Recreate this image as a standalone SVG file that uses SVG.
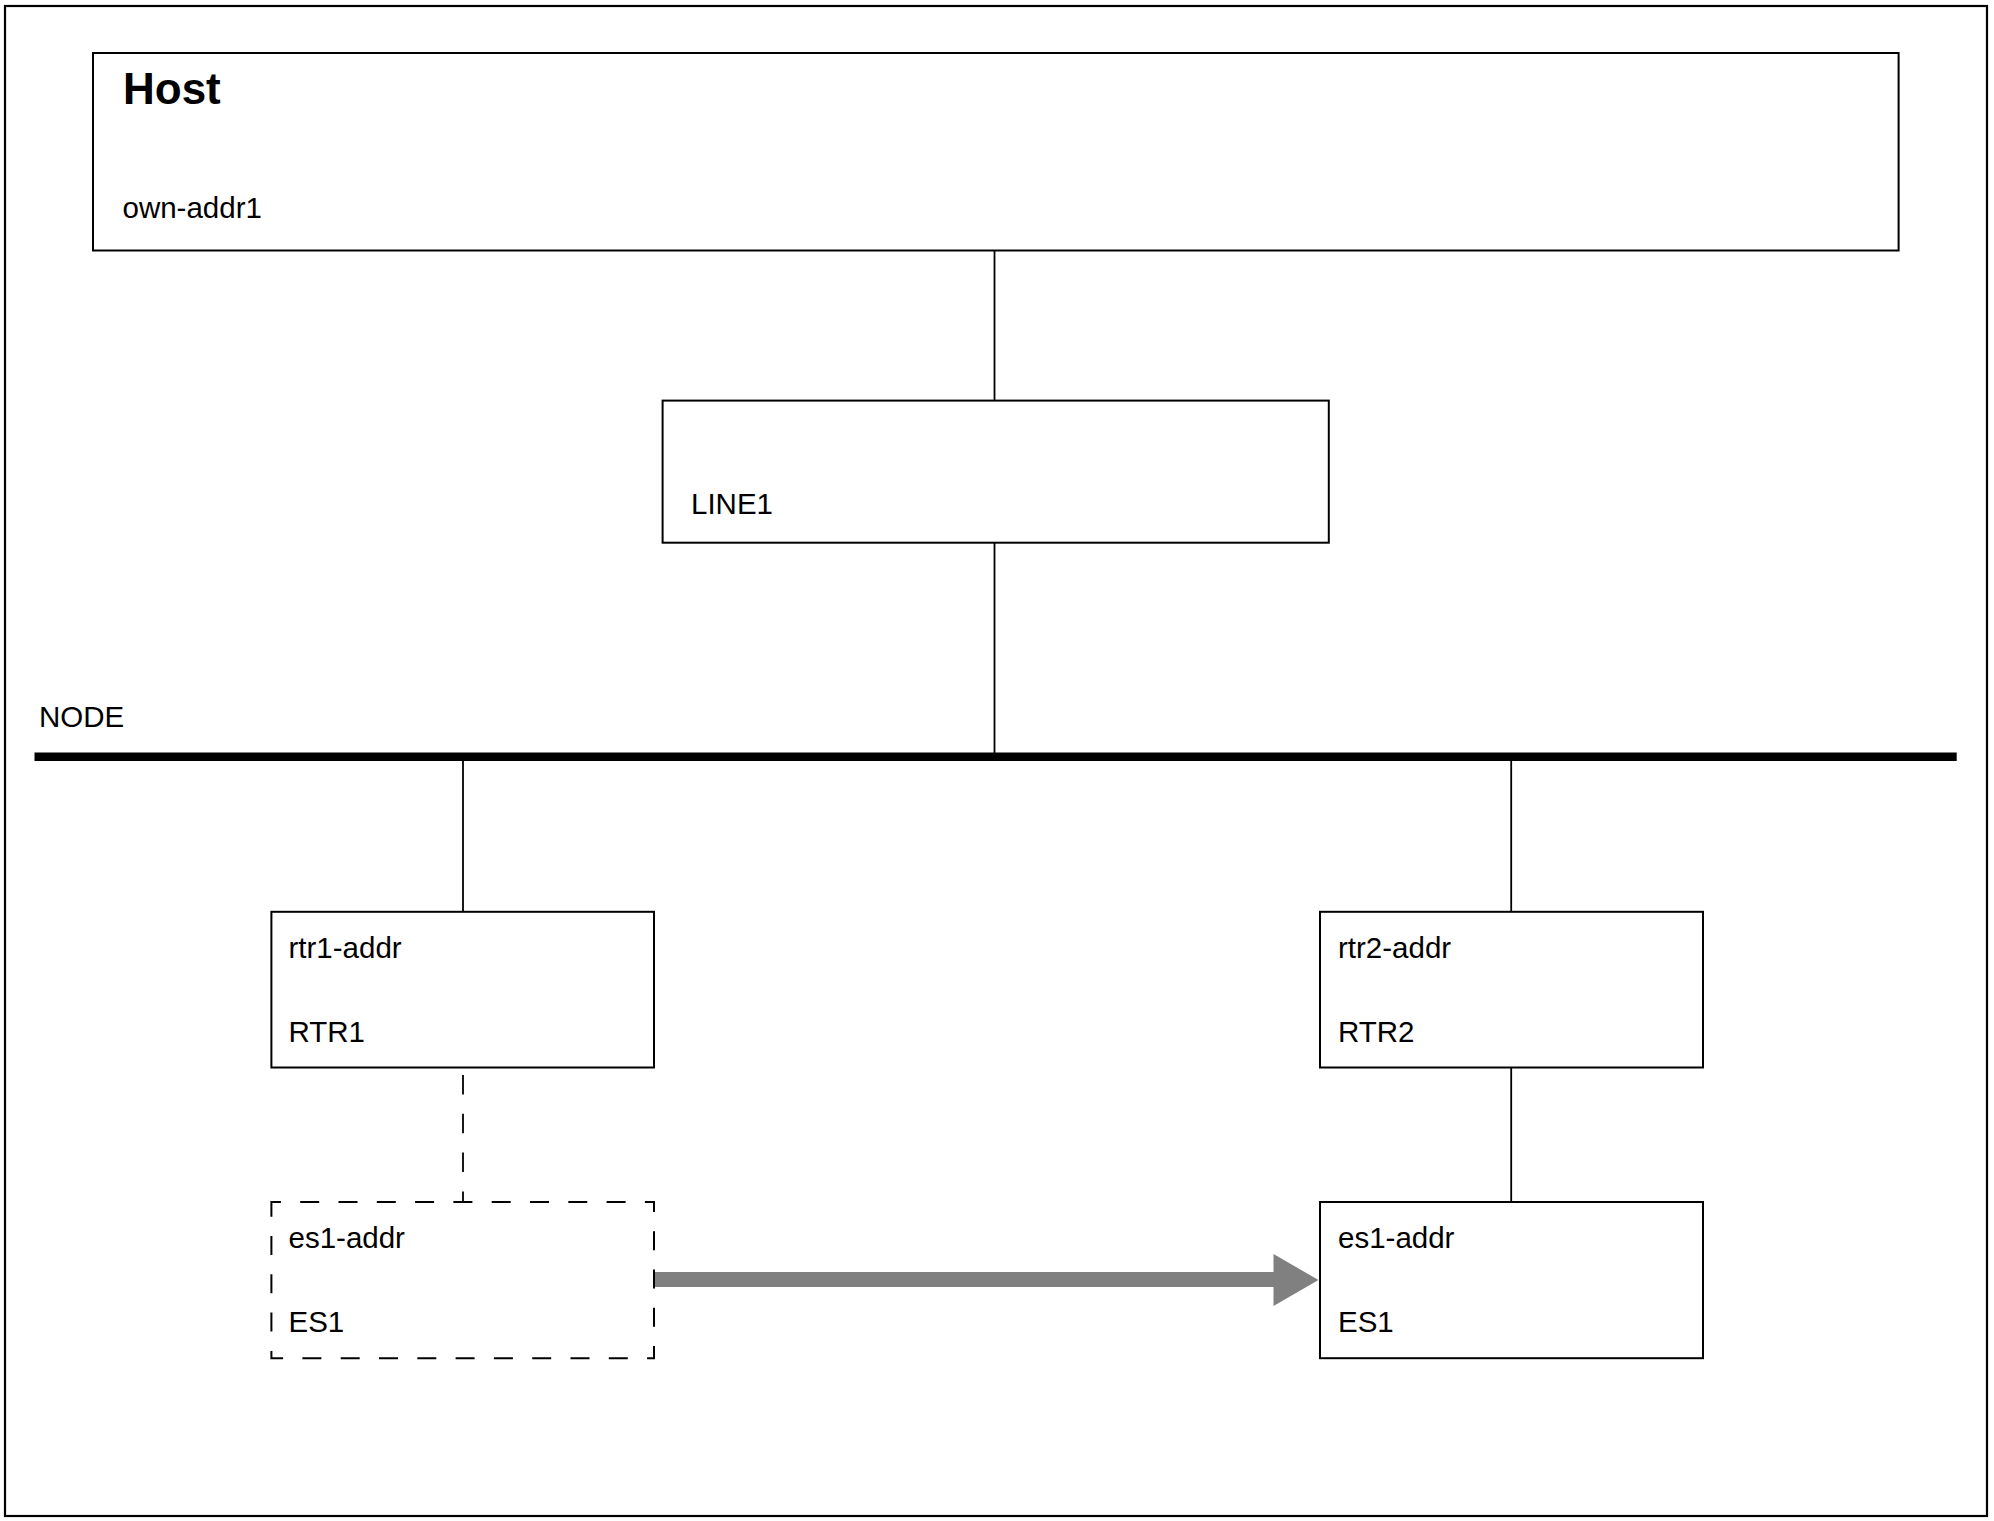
<svg xmlns="http://www.w3.org/2000/svg" width="1994" height="1521" viewBox="0 0 1994 1521">
  <defs>
    <style>
      .frame { fill: #ffffff; stroke: #000000; stroke-width: 2.2; }
      .box { fill: #ffffff; stroke: #000000; stroke-width: 2; }
      .dbox { fill: #ffffff; stroke: #000000; stroke-width: 2; stroke-dasharray: 19 19.3; stroke-dashoffset: 9.5; }
      .conn { stroke: #000000; stroke-width: 1.8; fill: none; }
      .dconn { stroke: #000000; stroke-width: 1.8; fill: none; stroke-dasharray: 19.5 19.3; }
      .bus { stroke: #000000; stroke-width: 8.6; fill: none; }
      .arrow { fill: #808080; stroke: none; }
      .lbl { font-family: "Liberation Sans", Arial, Helvetica, sans-serif; font-size: 29.5px; fill: #000000; }
      .title { font-family: "Liberation Sans", Arial, Helvetica, sans-serif; font-size: 44px; font-weight: bold; fill: #000000; }
    </style>
  </defs>

  <rect x="0" y="0" width="1994" height="1521" fill="#ffffff"/>
  <rect class="frame" x="5" y="6" width="1982" height="1510"/>

  <g id="connectors">
    <line class="conn" x1="994.5" y1="250.5" x2="994.5" y2="400.6"/>
    <line class="conn" x1="994.5" y1="542.7" x2="994.5" y2="753"/>
    <line class="bus" x1="34.5" y1="756.7" x2="1956.7" y2="756.7"/>
    <line class="conn" x1="463" y1="760" x2="463" y2="911.8"/>
    <line class="conn" x1="1511.2" y1="760" x2="1511.2" y2="912"/>
    <line class="dconn" x1="463" y1="1075" x2="463" y2="1202"/>
    <line class="conn" x1="1511.2" y1="1067.5" x2="1511.2" y2="1202"/>
    <polygon class="arrow" points="654,1272 1273.5,1272 1273.5,1254 1318.5,1280 1273.5,1306 1273.5,1287 654,1287"/>
  </g>

  <g id="host">
    <rect class="box" x="93" y="53" width="1805.6" height="197.5"/>
    <text class="title" x="123" y="104">Host</text>
    <text class="lbl" x="122.5" y="218">own-addr1</text>
  </g>

  <g id="line1">
    <rect class="box" x="662.6" y="400.6" width="666.2" height="142.1"/>
    <text class="lbl" x="691" y="514">LINE1</text>
  </g>

  <g id="node">
    <text class="lbl" x="39" y="727">NODE</text>
  </g>

  <g id="rtr1">
    <rect class="box" x="271.4" y="911.8" width="382.6" height="155.7"/>
    <text class="lbl" x="288.5" y="957.5">rtr1-addr</text>
    <text class="lbl" x="288.5" y="1041.7">RTR1</text>
  </g>

  <g id="rtr2">
    <rect class="box" x="1320" y="911.8" width="383" height="155.7"/>
    <text class="lbl" x="1338" y="957.5">rtr2-addr</text>
    <text class="lbl" x="1338" y="1041.7">RTR2</text>
  </g>

  <g id="es1-old">
    <rect class="dbox" x="271.4" y="1202" width="382.6" height="156.2"/>
    <text class="lbl" x="288.5" y="1248">es1-addr</text>
    <text class="lbl" x="288.5" y="1331.7">ES1</text>
  </g>

  <g id="es1-new">
    <rect class="box" x="1320" y="1202" width="383" height="156.2"/>
    <text class="lbl" x="1338" y="1248">es1-addr</text>
    <text class="lbl" x="1338" y="1331.7">ES1</text>
  </g>
</svg>
